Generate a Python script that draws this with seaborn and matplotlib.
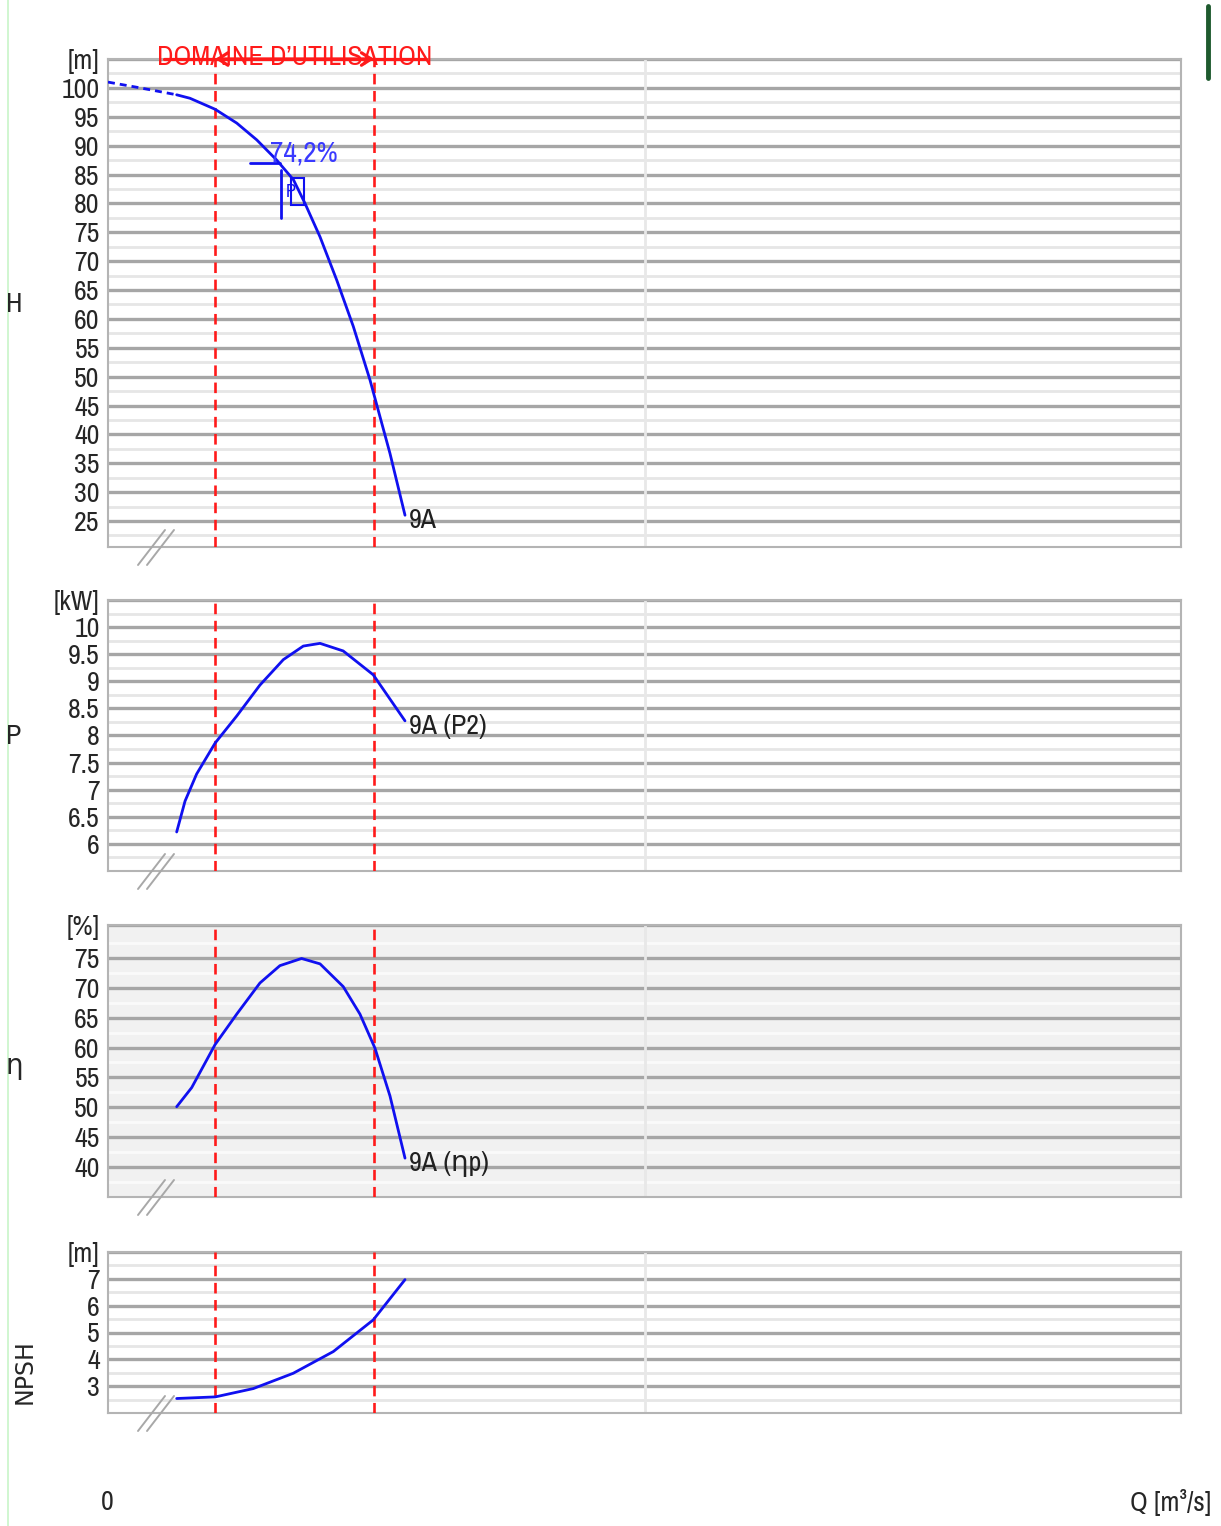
import pandas as pd
import seaborn as sns
import matplotlib.pyplot as plt
from matplotlib import font_manager as fm
from matplotlib.lines import Line2D
from matplotlib.patches import Rectangle

# -------------------------------
# data (Q in m3/s)
# -------------------------------
q_h_dash = [0.0, 0.0015, 0.0032]
h_dash = [101.0, 100.0, 98.8]

q_h = [0.0032, 0.00382, 0.00499, 0.0060, 0.00693, 0.00786, 0.00864, 0.00918, 0.00988,
       0.01066, 0.01143, 0.01221, 0.01314, 0.01384]
h_vals = [98.8, 98.2, 96.3, 93.9, 91.0, 87.5, 84.1, 80.0, 74.2, 66.7, 58.7, 49.4, 36.7, 26.0]

q_p = [0.0032, 0.00359, 0.00413, 0.00499, 0.0060, 0.00708, 0.00817, 0.0091, 0.00988,
       0.01096, 0.01236, 0.01384]
p_vals = [6.22, 6.79, 7.29, 7.86, 8.36, 8.93, 9.40, 9.65, 9.70, 9.56, 9.12, 8.27]

q_eta = [0.0032, 0.0039, 0.00499, 0.0060, 0.00708, 0.00801, 0.00902, 0.00988, 0.01096,
         0.01174, 0.01244, 0.01314, 0.01384]
eta_vals = [50.1, 53.3, 60.5, 65.6, 70.8, 73.7, 74.9, 74.0, 70.2, 65.6, 59.9, 51.9, 41.5]

q_npsh = [0.0032, 0.0050, 0.00677, 0.00863, 0.0105, 0.01236, 0.01384]
npsh_vals = [2.54, 2.60, 2.91, 3.48, 4.29, 5.47, 6.97]

q_domain = [0.005, 0.0124]
q_bep, h_bep, eta_bep = 0.00806, 86.96, "74,2%"

h_ticks = list(range(25, 101, 5))
p_ticks = [6, 6.5, 7, 7.5, 8, 8.5, 9, 9.5, 10]
eta_ticks = list(range(40, 76, 5))
npsh_ticks = [3, 4, 5, 6, 7]

curve_labels = ["9A", "9A (P2)", "9A (ηp)", None]

# -------------------------------
# style: the reference uses a very narrow font, take one if there is any
# -------------------------------
sns.set_style("white")
narrow = None
for f in fm.fontManager.ttflist:
    if f.style != "normal" or f.weight not in (400, "normal", "regular"):
        continue
    if "Narrow" in f.name or "Condensed" in f.name:
        narrow = (f.name, "normal")
        break
    if str(f.stretch) in ("condensed", "semi-condensed") and f.name == "DejaVu Sans":
        narrow = (f.name, f.stretch)
if narrow:
    plt.rcParams["font.family"] = [narrow[0], "DejaVu Sans"]
    plt.rcParams["font.stretch"] = narrow[1]
    FS = 20
else:
    plt.rcParams["font.family"] = ["DejaVu Sans"]
    FS = 15

W, H = 1221, 1526
BLUE = "#1010f0"
RED = "#ff1a1a"
TXT = "#262626"
fig = plt.figure(figsize=(W / 100, H / 100), dpi=100)

# panel rows in pixels (top, bottom)
rows = [(59, 547), (600, 871), (925, 1197), (1252, 1413)]
axes = [fig.add_axes([108 / W, 1 - b / H, 1073 / W, (b - t) / H]) for t, b in rows]

panels = [
    (q_h, h_vals, (20.5, 105), h_ticks, "[m]", 2.5),
    (q_p, p_vals, (5.5, 10.5), p_ticks, "[kW]", 0.25),
    (q_eta, eta_vals, (35, 80.5), eta_ticks, "[%]", 2.5),
    (q_npsh, npsh_vals, (2, 8), npsh_ticks, "[m]", 0.5),
]

for i, (ax, (qx, vals, ylim, ticks, unit, half)) in enumerate(zip(axes, panels)):
    ax.set_xlim(0, 0.05)
    ax.set_ylim(*ylim)
    ax.set_facecolor("#f1f1f1" if i == 2 else "white")
    ax.set_axisbelow(True)

    ax.set_yticks(ticks + [ylim[1]])
    ax.set_yticklabels([f"{t:g}" for t in ticks] + [unit])
    ax.set_yticks([t - half for t in ticks] + [ticks[-1] + half], minor=True)
    ax.set_xticks([])
    ax.tick_params(axis="y", which="both", length=0, pad=6, labelsize=FS, labelcolor=TXT)
    ax.grid(which="major", axis="y", color="#a6a6a6", lw=2.4)
    ax.grid(which="minor", axis="y", color="#e6e6e6" if i != 2 else "#fafafa", lw=2)
    ax.axvline(0.025, color="#e8e8e8", lw=2, zorder=0.8)
    for s in ax.spines.values():
        s.set_color("#b4b4b4")
        s.set_linewidth(1.5)

    # operating range
    for qd in q_domain:
        ax.axvline(qd, color=RED, lw=1.9, ls=(0, (4, 2.5)), zorder=3)

    df = pd.DataFrame({"Q": qx, "v": vals})
    sns.lineplot(data=df, x="Q", y="v", ax=ax, color=BLUE, lw=2.0, zorder=4)
    ax.set_xlabel("")
    ax.set_ylabel("")

    if curve_labels[i]:
        ax.annotate(curve_labels[i], xy=(qx[-1], vals[-1]), xytext=(3, -4),
                    textcoords="offset points", ha="left", va="center", fontsize=FS,
                    color="#202020")

    # axis break marks
    bb = ax.get_position()
    for dx in (0, 9):
        fig.add_artist(Line2D([bb.x0 + (30 + dx) / W, bb.x0 + (57 + dx) / W],
                              [bb.y0 - 18 / H, bb.y0 + 17 / H], color="#a8a8a8", lw=1.4))

# -------------------------------
# head panel extras
# -------------------------------
ax = axes[0]
sns.lineplot(x=q_h_dash, y=h_dash, ax=ax, color=BLUE, lw=2.0, ls=(0, (2.5, 1.8)), zorder=4)

# operating range arrow
ytop = 105
ext = 0.0024
ax.plot([q_domain[0] - ext, q_domain[1] + ext], [ytop, ytop], color=RED, lw=2.3,
        clip_on=False, zorder=5)
ax.annotate("", xy=(q_domain[1], ytop), xytext=(q_domain[0], ytop),
            arrowprops=dict(arrowstyle="<->,head_length=0.7,head_width=0.45", color=RED,
                            lw=2.3, shrinkA=0, shrinkB=0), annotation_clip=False, zorder=5)
ax.text(sum(q_domain) / 2, ytop + 0.3, "DOMAINE D\u2019UTILISATION", color=RED,
        fontsize=FS, ha="center", va="center", clip_on=False, zorder=6)

# best efficiency point marker
ax.plot([q_bep - 0.00145, q_bep - 0.00004], [h_bep, h_bep], color=BLUE, lw=2, zorder=5)
ax.plot([q_bep, q_bep], [h_bep - 9.5, h_bep - 1.2], color=BLUE, lw=2, zorder=5)
ax.add_patch(Rectangle((q_bep + 0.00047, h_bep - 7.3), 0.0006, 4.7, fill=False,
                       edgecolor=BLUE, lw=1.5, zorder=5))
ax.text(q_bep + 0.00022, h_bep - 5, "P", color=BLUE, fontsize=FS - 7, ha="left",
        va="center", zorder=5)
ax.text(q_bep - 0.0005, h_bep + 1.7, eta_bep, color="#3a3aff", fontsize=FS + 1, ha="left",
        va="center", zorder=5)

# -------------------------------
# figure texts
# -------------------------------
for label, y in [("H", 305), ("P", 737), ("\u03b7", 1068)]:
    fig.text(14 / W, 1 - y / H, label, ha="center", va="center", fontsize=FS, color=TXT)
fig.text(25 / W, 1 - 1372 / H, "NPSH", ha="center", va="center", rotation=90, fontsize=17,
         family="DejaVu Sans", stretch="normal", color=TXT)
fig.text(107 / W, 1 - 1502 / H, "0", ha="center", va="center", fontsize=FS, color=TXT)
fig.text(1211 / W, 1 - 1502 / H, "Q [m\u00b3/s]", ha="right", va="center", fontsize=FS,
         color=TXT)

# screenshot edges
fig.add_artist(Line2D([8 / W, 8 / W], [0, 1], color="#c8f5c8", lw=1.2))
fig.add_artist(Line2D([1208 / W, 1208 / W], [1 - 6 / H, 1 - 78 / H], color="#1e5a2e", lw=3.5))

fig.savefig("out.png", dpi=100)
